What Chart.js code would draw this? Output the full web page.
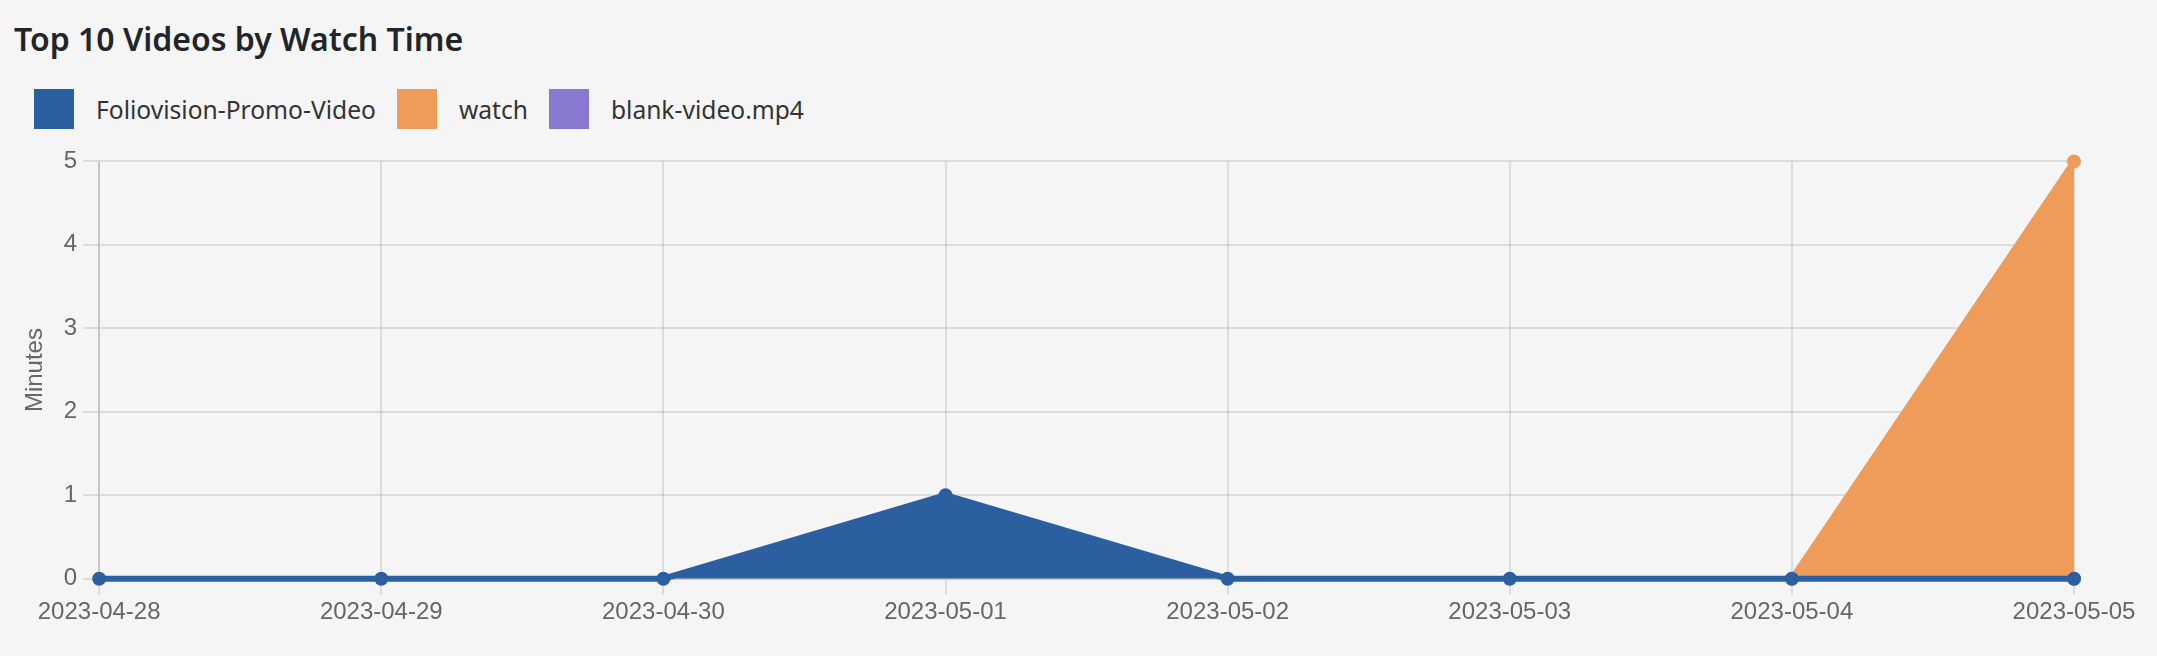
<!DOCTYPE html>
<html>
<head>
<meta charset="utf-8">
<title>Top 10 Videos by Watch Time</title>
<script src="https://cdn.jsdelivr.net/npm/chart.js@4"></script>
<style>
    html, body {
        margin: 0;
        padding: 0;
        background: #f5f5f5;
        width: 2157px;
        height: 656px;
        overflow: hidden;
    }
    h3 {
        position: absolute;
        left: 14px;
        top: 13px;
        margin: 0;
        font-family: "Noto Sans", "Open Sans", sans-serif;
        font-weight: 600;
        font-size: 32px;
        line-height: 52px;
        color: #212529;
    }
    #legend {
        position: absolute;
        left: 34px;
        top: 89px;
        display: flex;
        margin: 0;
        padding: 0;
        list-style: none;
        font-family: "Noto Sans", "Open Sans", sans-serif;
        font-size: 24.6px;
        color: #333;
    }
    #legend li {
        display: flex;
        align-items: center;
        height: 40px;
        margin-right: 21px;
    }
    #legend .box {
        width: 40px;
        height: 40px;
        margin-right: 22px;
    }
    .chart-wrap {
        position: absolute;
        left: 0;
        top: 141px;
        width: 2157px;
        height: 515px;
    }
</style>
</head>
<body>
<h3>Top 10 Videos by Watch Time</h3>
<ul id="legend"></ul>
<div class="chart-wrap"><canvas id="watch-chart"></canvas></div>
<script>
    // Chart data (minutes per day; null = no views that day)
    const dates = ['2023-04-28', '2023-04-29', '2023-04-30', '2023-05-01',
                   '2023-05-02', '2023-05-03', '2023-05-04', '2023-05-05'];
    const promoMinutes = [0, 0, 0, 1, 0, 0, 0, 0];
    const watchMinutes = [null, null, null, null, null, null, 0, 5];
    const blankMinutes = [null, null, null, null, null, null, null, 0];
    const yTicks = [0, 1, 2, 3, 4, 5];

    const BLUE = '#2c5fa0';
    const ORANGE = '#ef9b5a';
    const PURPLE = '#8878d0';

    function series(label, data, color) {
        return {
            label,
            data,
            borderColor: color,
            backgroundColor: color,
            fill: true,
            tension: 0,
            borderWidth: 6,
            pointRadius: 6,
            pointBorderWidth: 2,
            pointHoverRadius: 8,
            pointBackgroundColor: color,
            clip: false
        };
    }

    // HTML legend built from the chart's own legend items
    const htmlLegend = {
        id: 'htmlLegend',
        afterUpdate(chart) {
            const list = document.getElementById('legend');
            const items = chart.options.plugins.legend.labels.generateLabels(chart);
            list.innerHTML = '';
            items.forEach(item => {
                const li = document.createElement('li');
                const box = document.createElement('span');
                box.className = 'box';
                box.style.background = item.fillStyle;
                const text = document.createElement('span');
                text.textContent = item.text;
                li.appendChild(box);
                li.appendChild(text);
                list.appendChild(li);
            });
        }
    };

    const tickFont = { family: 'Arial, "Liberation Sans", sans-serif', size: 24 };

    new Chart(document.getElementById('watch-chart'), {
        type: 'line',
        data: {
            labels: dates,
            datasets: [
                series('Foliovision-Promo-Video', promoMinutes, BLUE),
                series('watch', watchMinutes, ORANGE),
                series('blank-video.mp4', blankMinutes, PURPLE)
            ]
        },
        options: {
            responsive: true,
            maintainAspectRatio: false,
            animation: false,
            layout: {
                padding: { left: 13, right: 83, top: 0, bottom: 26.5 }
            },
            plugins: {
                legend: { display: false },
                tooltip: { enabled: false }
            },
            scales: {
                x: {
                    grid: { color: 'rgba(0,0,0,0.1)', lineWidth: 2, tickLength: 16 },
                    border: { color: 'rgba(0,0,0,0.1)', width: 2 },
                    ticks: { color: '#666', font: tickFont, padding: 3, maxRotation: 0 }
                },
                y: {
                    min: 0,
                    max: 5,
                    afterBuildTicks: axis => {
                        axis.ticks = yTicks.map(v => ({ value: v }));
                    },
                    grid: { color: 'rgba(0,0,0,0.1)', lineWidth: 2, tickLength: 16 },
                    border: { color: 'rgba(0,0,0,0.1)', width: 2 },
                    ticks: { color: '#666', font: tickFont, padding: 6 },
                    title: {
                        display: true,
                        text: 'Minutes',
                        color: '#666',
                        font: tickFont,
                        padding: { top: 8, bottom: 8 }
                    }
                }
            }
        },
        plugins: [htmlLegend]
    });
</script>
</body>
</html>
